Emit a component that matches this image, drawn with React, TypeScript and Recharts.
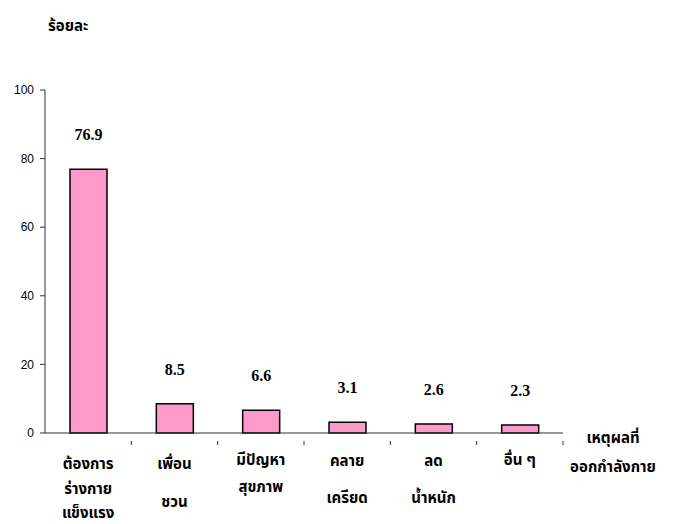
import { Bar, BarChart, LabelList, XAxis, YAxis } from "recharts";

const categories = ["ต้องการร่างกายแข็งแรง", "เพื่อนชวน", "มีปัญหาสุขภาพ", "คลายเครียด", "ลดน้ำหนัก", "อื่น ๆ"];
const categoryLines = [
  ["ต้องการ", "ร่างกาย", "แข็งแรง"],
  ["เพื่อน", "ชวน"],
  ["มีปัญหา", "สุขภาพ"],
  ["คลาย", "เครียด"],
  ["ลด", "น้ำหนัก"],
  ["อื่น ๆ"],
];
const percents = [76.9, 8.5, 6.6, 3.1, 2.6, 2.3];
const yTicks = [0, 20, 40, 60, 80, 100];

const data = categories.map((name, i) => ({ name, lines: categoryLines[i], value: percents[i] }));

const thaiFont = "'Noto Sans Thai', 'Noto Serif Thai', 'Loma', 'Garuda', 'Norasi', sans-serif";

// vertical offsets of each label line below the axis (reference wraps unevenly)
const lineOffsets = [[23, 48, 72], [23, 61], [19, 46], [20, 57], [20, 57], [19]];
const BAND = (563 - 45) / categories.length;

const CategoryTick = (props: any) => {
  const { x, y, index } = props;
  const lines = categoryLines[index] ?? [];
  const offs = lineOffsets[index] ?? [];
  return (
    <g>
      <line x1={x + BAND / 2} x2={x + BAND / 2} y1={y} y2={y + 4} stroke="#333" strokeWidth={1} />
      {lines.map((t, i) => (
        <text
          key={t}
          x={x}
          y={y + offs[i]}
          textAnchor="middle"
          dominantBaseline="central"
          fontFamily={thaiFont}
          fontWeight="bold"
          fontSize={15}
          fill="#000"
        >
          {t}
        </text>
      ))}
    </g>
  );
};

const ValueLabel = (props: any) => {
  const { x, y, width, value } = props;
  return (
    <text
      x={x + width / 2}
      y={y - 29}
      textAnchor="middle"
      fontFamily="'Liberation Serif', serif"
      fontWeight="bold"
      fontSize={16}
      fill="#000"
    >
      {value}
    </text>
  );
};

export default function App() {
  return (
    <div style={{ position: "absolute", left: 0, top: 0, width: 675, height: 524, background: "#fff" }}>
      <BarChart width={675} height={524} data={data} margin={{ top: 90, right: 112, bottom: 0, left: 0 }}>
        <YAxis
          domain={[0, 100]}
          ticks={yTicks}
          width={45}
          tickSize={5}
          tickMargin={6}
          stroke="#333"
          tick={{ fill: "#000", fontSize: 12, fontFamily: "'Liberation Sans', Arial, sans-serif" }}
          axisLine={{ stroke: "#333" }}
        />
        <XAxis
          dataKey="name"
          height={91}
          interval={0}
          tickLine={false}
          axisLine={{ stroke: "#333" }}
          tick={<CategoryTick />}
        />
        <Bar dataKey="value" fill="#FF99CC" stroke="#000" strokeWidth={1.5} barSize={37} isAnimationActive={false}>
          <LabelList dataKey="value" content={<ValueLabel />} />
        </Bar>
      </BarChart>
      <div
        style={{
          position: "absolute",
          left: 48,
          top: 14,
          fontFamily: thaiFont,
          fontWeight: "bold",
          fontSize: 15,
          lineHeight: "26px",
        }}
      >
        ร้อยละ
      </div>
      <div
        style={{
          position: "absolute",
          left: 563,
          top: 424,
          width: 100,
          textAlign: "center",
          fontFamily: thaiFont,
          fontWeight: "bold",
          fontSize: 15,
          lineHeight: "29px",
        }}
      >
        เหตุผลที่
        <br />
        ออกกำลังกาย
      </div>
    </div>
  );
}
